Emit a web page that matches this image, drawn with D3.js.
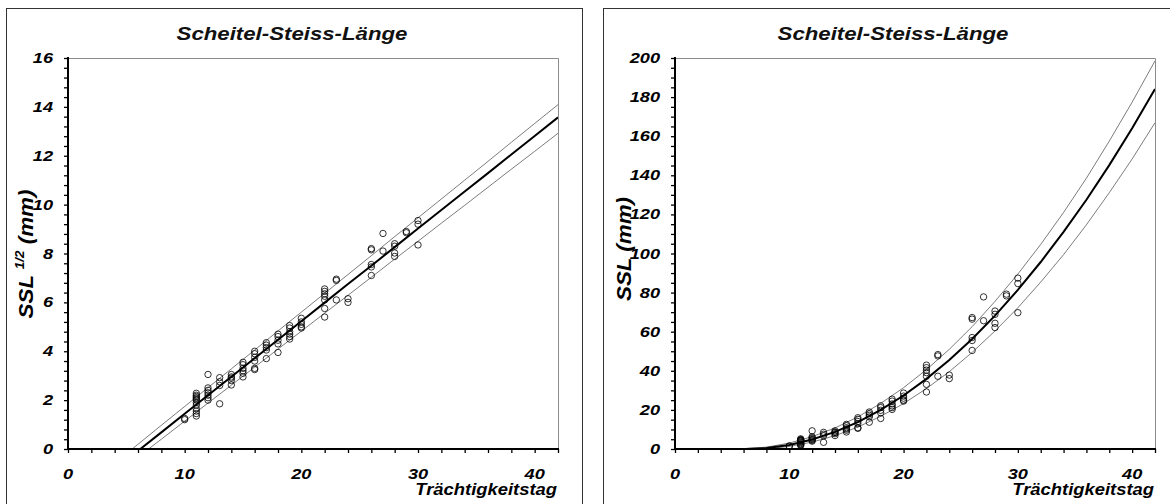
<!DOCTYPE html>
<html>
<head>
<meta charset="utf-8">
<script src="https://cdn.jsdelivr.net/npm/d3@7"></script>
<style>
  body { margin: 0; background: #fff; }
  svg { display: block; }
  text { font-family: "Liberation Sans", Arial, sans-serif; font-weight: bold; font-style: italic; }
</style>
</head>
<body>
<script>

// observed points: gestation day and square root of crown-rump length (mm^1/2)
var obsDay = [10, 10,
    11, 11, 11, 11, 11, 11, 11, 11, 11, 11, 11, 11,
    12, 12, 12, 12, 12, 12, 12,
    13, 13, 13, 13,
    14, 14, 14, 14, 14,
    15, 15, 15, 15, 15, 15,
    16, 16, 16, 16, 16, 16,
    17, 17, 17, 17, 17,
    18, 18, 18, 18, 18,
    19, 19, 19, 19, 19, 19,
    20, 20, 20, 20, 20,
    22, 22, 22, 22, 22, 22, 22,
    23, 23, 23,
    24, 24,
    26, 26, 26, 26, 26,
    27, 27,
    28, 28, 28, 28,
    29, 29,
    30, 30, 30];
var obsRoot = [1.25, 1.2,
    1.35, 1.45, 1.55, 1.65, 1.8, 1.9, 2.0, 2.05, 2.1, 2.15, 2.2, 2.28,
    3.05, 2.0, 2.1, 2.2, 2.3, 2.4, 2.5,
    2.92, 2.75, 2.6, 1.85,
    2.62, 2.8, 2.9, 2.95, 3.05,
    2.95, 3.1, 3.2, 3.3, 3.45, 3.55,
    3.25, 3.3, 3.6, 3.75, 3.9, 4.0,
    3.7, 4.05, 4.15, 4.25, 4.35,
    3.95, 4.3, 4.45, 4.6, 4.7,
    4.5, 4.6, 4.7, 4.8, 4.95, 5.05,
    4.95, 5.0, 5.1, 5.2, 5.35,
    6.55, 6.45, 6.35, 6.25, 6.1, 5.75, 5.4,
    6.95, 6.9, 6.1,
    6.15, 6.0,
    8.2, 8.15, 7.55, 7.45, 7.1,
    8.82, 8.1,
    8.4, 8.3, 8.02, 7.88,
    8.9, 8.85,
    9.35, 9.2, 8.35];

// regression line and band (square-root scale), read at these days
var midDay   = [6.2, 8, 10, 12, 14, 16, 18, 20, 22, 24, 26, 28, 30, 32, 34, 36, 38, 40, 42];
var midRoot  = [0, 0.68, 1.44, 2.2, 2.96, 3.71, 4.47, 5.23, 5.99, 6.75, 7.5, 8.26, 9.02, 9.78, 10.54, 11.29, 12.05, 12.81, 13.57];
var upDay    = [5.5, 8, 10, 12, 14, 16, 18, 20, 22, 24, 26, 28, 30, 32, 34, 36, 38, 40, 42];
var upRoot   = [0, 0.97, 1.74, 2.51, 3.28, 4.05, 4.83, 5.6, 6.37, 7.14, 7.91, 8.69, 9.46, 10.23, 11.0, 11.77, 12.55, 13.32, 14.09];
var lowDay   = [6.9, 8, 10, 12, 14, 16, 18, 20, 22, 24, 26, 28, 30, 32, 34, 36, 38, 40, 42];
var lowRoot  = [0, 0.4, 1.14, 1.88, 2.61, 3.35, 4.09, 4.82, 5.56, 6.29, 7.03, 7.77, 8.5, 9.24, 9.97, 10.71, 11.45, 12.18, 12.92];

var xTicks      = [0, 10, 20, 30, 40];
var leftYTicks  = [0, 2, 4, 6, 8, 10, 12, 14, 16];
var rightYTicks = [0, 20, 40, 60, 80, 100, 120, 140, 160, 180, 200];

function makePlot(){

    const width = 1170;
    const height = 504;

    const svg = d3.create("svg")
        .attr("width", width)
        .attr("height", height)
        .attr("viewBox", [0, 0, width, height]);

    document.body.appendChild(svg.node());

    var points = obsDay.map((d, i) => ({day: d, root: obsRoot[i]}));
    var fits = [
        {w: 0.7, pts: upDay.map((d, i) => ({day: d, root: upRoot[i]}))},
        {w: 0.7, pts: lowDay.map((d, i) => ({day: d, root: lowRoot[i]}))},
        {w: 2,   pts: midDay.map((d, i) => ({day: d, root: midRoot[i]}))}
    ];

    // the original text looks a bit stretched sideways
    const stretch = (px, py, sx) => `translate(${px},${py}) scale(${sx},1)`;

    // one panel: frame, title, axes, band lines, points
    function panel(opt){

        const g = svg.append("g");

        // outer frame (bottom runs past the picture)
        g.append("rect")
            .attr("x", opt.frame[0] + 0.5)
            .attr("y", 8.5)
            .attr("width", opt.frame[1] - opt.frame[0])
            .attr("height", 540)
            .attr("fill", "none")
            .attr("stroke", "#333")
            .attr("stroke-width", 1);

        const x = d3.scaleLinear().domain([0, 42]).range([opt.left, opt.right]);
        const y = d3.scaleLinear().domain([0, opt.ymax]).range([449, 58]);

        // plot area border (top, right)
        g.append("path")
            .attr("d", `M${opt.left},58.5H${opt.right + 0.5}V449`)
            .attr("fill", "none")
            .attr("stroke", "#8c8c8c")
            .attr("stroke-width", 1);

        g.append("text")
            .attr("transform", stretch(opt.titleX, 40, 1.17))
            .attr("text-anchor", "middle")
            .attr("font-size", 19)
            .attr("fill", "#111")
            .text("Scheitel-Steiss-Länge");

        const clipId = "clip" + opt.left;
        svg.append("clipPath").attr("id", clipId)
            .append("rect")
            .attr("x", opt.left).attr("y", 58)
            .attr("width", opt.right - opt.left).attr("height", 391);

        const line = d3.line()
            .x(d => x(d.day))
            .y(d => y(opt.val(d.root)));

        g.append("g")
            .attr("clip-path", `url(#${clipId})`)
            .attr("fill", "none")
            .selectAll()
            .data(fits)
            .join("path")
            .attr("stroke-width", d => d.w)
            .attr("stroke", d => d.w > 1 ? "#000" : "#444")
            .attr("d", d => line(d.pts));

        g.append("g")
            .attr("fill", "none")
            .attr("stroke", "#000")
            .attr("stroke-width", 0.8)
            .selectAll()
            .data(points)
            .join("circle")
            .attr("cx", d => x(d.day))
            .attr("cy", d => y(opt.val(d.root)))
            .attr("r", 3.2);

        // x axis: minor ticks every 2 days, labels on the tens
        g.append("g")
            .attr("transform", "translate(0,449)")
            .call(d3.axisBottom(x).tickValues(d3.range(0, 43, 2)).tickSize(4).tickSizeOuter(0).tickFormat(""))
            .call(a => a.select(".domain").attr("stroke-width", 2).attr("d", `M${opt.left},0H${opt.right + 1}`))
            .call(a => a.selectAll(".tick line").attr("stroke-width", 1.3));

        g.append("g")
            .selectAll()
            .data(xTicks)
            .join("text")
            .attr("transform", d => stretch(x(d), 479, 1.3))
            .attr("text-anchor", "middle")
            .attr("font-size", 14)
            .text(d => d);

        g.append("text")
            .attr("transform", stretch(opt.right - 1, 495, 1.15))
            .attr("text-anchor", "end")
            .attr("font-size", 16)
            .text("Trächtigkeitstag");

        // y axis
        g.append("g")
            .attr("transform", `translate(${opt.left},0)`)
            .call(d3.axisLeft(y).tickValues(d3.range(0, opt.ymax + 0.001, opt.minor)).tickSize(4).tickSizeOuter(0).tickFormat(""))
            .call(a => a.select(".domain").attr("stroke-width", 2).attr("d", "M0,57V450"))
            .call(a => a.selectAll(".tick line").attr("stroke-width", 1.3));

        g.append("g")
            .selectAll()
            .data(opt.yTicks)
            .join("text")
            .attr("transform", d => stretch(opt.left - 15, y(d) + 5, 1.3))
            .attr("text-anchor", "end")
            .attr("font-size", 14)
            .text(d => d);

        const lab = g.append("text")
            .attr("transform", `translate(${opt.labelX},${opt.labelY}) rotate(-90) scale(1.12,1)`)
            .attr("text-anchor", "middle")
            .attr("font-size", 20)
            .text("SSL ");
        if (opt.root) {
            lab.append("tspan").attr("font-size", 12).attr("dy", -9).text("1/2");
            lab.append("tspan").attr("dy", 9).text(" (mm)");
        } else {
            lab.append("tspan").text("(mm)");
        }
    }

    panel({frame: [6, 582], left: 68, right: 558, titleX: 292, ymax: 16, minor: 0.4,
           yTicks: leftYTicks, val: r => r, root: true, labelX: 33, labelY: 254});

    panel({frame: [603, 1176], left: 675, right: 1155, titleX: 893, ymax: 200, minor: 5,
           yTicks: rightYTicks, val: r => r * r, root: false, labelX: 631, labelY: 249});

    return svg.node();
}

makePlot();
</script>
</body>
</html>
